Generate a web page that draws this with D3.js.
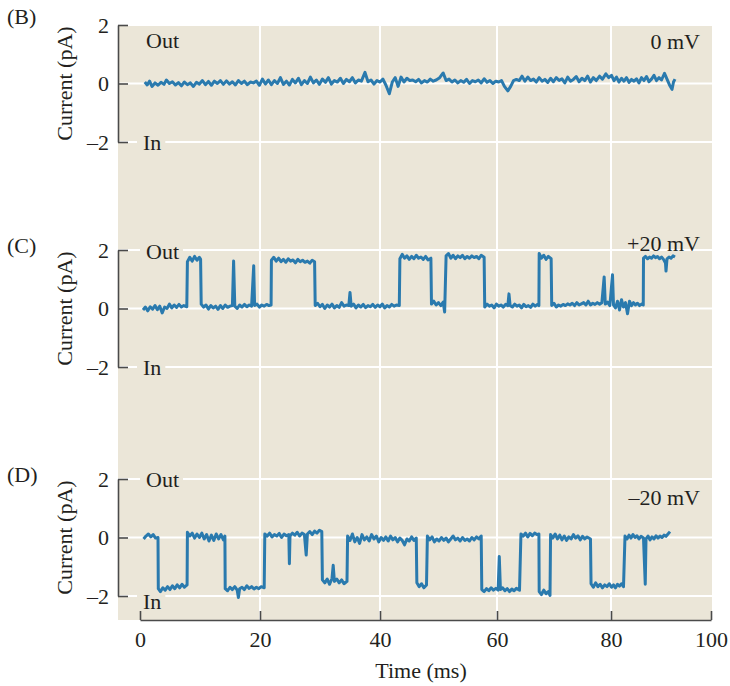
<!DOCTYPE html>
<meta charset="utf-8">
<script src="https://d3js.org/d3.v7.js"></script>
<style>
  body { margin: 0; background: #fff; }
  text { font-family: "Liberation Serif", serif; fill: #231f20; }
</style>
<div id="my_dataviz"></div>

<script>
// ---- data ----
var timeTicks = [0, 20, 40, 60, 80, 100];
var currentTicks = [-2, 0, 2];
var panelLetters = ["(B)", "(C)", "(D)"];
var voltages = ["0 mV", "+20 mV", "\u201320 mV"];

// 0 mV: noise around 0
var trace0mV = [[0.8,0.05],[1.2,-0.05],[1.6,0.08],[2.0,-0.1],[2.5,0.02],[3.0,-0.06],[3.5,0.04],[4.0,-0.03],[4.4,0.12],[4.9,0.0],[5.4,0.06],[5.9,-0.05],[6.4,0.03],[6.9,-0.08],[7.4,0.05],[7.9,-0.04],[8.4,0.02],[8.9,-0.1],[9.4,0.04],[9.9,-0.02],[10.4,0.1],[10.9,-0.04],[11.4,0.07],[11.9,-0.06],[12.4,0.08],[12.9,0.0],[13.4,0.1],[13.9,-0.03],[14.4,0.09],[14.9,-0.02],[15.4,0.06],[15.9,-0.05],[16.4,0.1],[16.9,0.0],[17.4,0.08],[17.9,-0.04],[18.4,0.05],[18.9,0.02],[19.4,0.08],[19.9,-0.06],[20.4,0.15],[20.9,-0.02],[21.4,0.12],[21.9,-0.04],[22.4,0.1],[22.9,0.0],[23.4,0.2],[23.9,-0.03],[24.4,0.08],[24.9,-0.05],[25.4,0.14],[25.9,0.02],[26.4,0.18],[26.9,-0.04],[27.4,0.1],[27.9,0.0],[28.4,0.22],[28.9,0.02],[29.4,0.12],[29.9,-0.03],[30.4,0.15],[30.9,0.04],[31.4,0.2],[31.9,-0.02],[32.4,0.1],[32.9,0.05],[33.4,0.18],[33.9,0.0],[34.4,0.14],[34.9,0.06],[35.4,0.2],[35.9,0.02],[36.4,0.12],[36.9,0.08],[37.5,0.38],[38.0,0.06],[38.5,0.12],[39.0,-0.02],[39.5,0.1],[40.0,0.05],[40.5,0.15],[41.0,-0.05],[41.6,-0.35],[42.1,0.05],[42.6,0.2],[43.1,-0.1],[43.6,0.22],[44.1,0.05],[44.6,0.18],[45.1,0.1],[45.6,0.12],[46.1,0.06],[46.6,0.14],[47.1,0.02],[47.6,0.1],[48.1,0.05],[48.6,0.15],[49.1,0.08],[49.6,0.12],[50.2,0.2],[50.8,0.36],[51.3,0.1],[51.8,0.15],[52.3,0.05],[52.8,0.12],[53.3,0.02],[53.8,0.1],[54.3,0.04],[54.8,0.14],[55.3,0.0],[55.8,0.1],[56.3,0.06],[56.8,0.12],[57.3,0.02],[57.8,0.16],[58.3,0.04],[58.8,0.1],[59.3,0.0],[59.8,0.08],[60.3,0.05],[60.8,0.1],[61.3,-0.1],[61.9,-0.25],[62.4,-0.1],[62.9,0.1],[63.4,0.14],[63.9,0.1],[64.4,0.25],[64.9,0.08],[65.4,0.22],[65.9,0.1],[66.4,0.15],[66.9,0.05],[67.4,0.2],[67.9,0.08],[68.4,0.14],[68.9,0.04],[69.4,0.18],[69.9,0.06],[70.4,0.2],[70.9,0.1],[71.4,0.16],[71.9,0.02],[72.4,0.22],[72.9,0.08],[73.4,0.14],[73.9,0.24],[74.4,0.06],[74.9,0.18],[75.4,0.1],[75.9,0.25],[76.4,0.05],[76.9,0.2],[77.4,0.1],[78.0,0.25],[78.5,0.15],[79.1,0.33],[79.6,0.2],[80.1,0.28],[80.6,0.1],[81.1,0.22],[81.6,0.05],[82.1,0.18],[82.6,0.08],[83.1,0.2],[83.6,0.04],[84.1,0.14],[84.6,0.08],[85.1,0.16],[85.6,0.02],[86.1,0.2],[86.6,0.1],[87.1,0.24],[87.6,0.06],[88.1,0.15],[88.6,0.28],[89.1,0.1],[89.6,0.2],[90.1,0.12],[90.7,0.35],[91.2,0.15],[91.7,-0.05],[92.2,-0.2],[92.5,0.05],[92.8,0.15]];

// +20 mV: closed ~0, open ~+1.7
var tracePlus20 = [[0.5,-0.05],[0.9,0.05],[1.3,-0.08],[1.7,0.06],[2.1,-0.02],[2.5,0.1],[2.9,-0.04],[3.3,0.08],[3.7,-0.15],[4.1,0.05],[4.5,0.0],[4.9,0.15],[5.3,0.02],[5.7,0.12],[6.1,0.04],[6.5,0.14],[6.9,0.05],[7.3,0.1],[7.8,0.06],
  [7.9,1.6],[8.3,1.75],[8.7,1.62],[9.1,1.78],[9.5,1.65],[9.9,1.75],[10.1,1.68],
  [10.2,0.15],[10.6,0.05],[11.0,0.12],[11.4,-0.02],[11.8,0.1],[12.2,0.02],[12.6,0.08],[13.0,-0.03],[13.4,0.1],[13.8,0.0],[14.2,0.12],[14.6,0.04],[15.0,0.08],[15.4,0.1],[15.6,1.62],[15.8,0.08],[16.2,0.0],[16.6,0.12],[17.0,0.05],[17.4,0.14],[17.8,0.06],[18.2,0.12],[18.6,0.08],[18.95,1.46],[19.1,0.1],[19.5,0.15],[19.9,0.05],[20.3,0.12],[20.7,0.08],[21.1,0.14],[21.5,0.1],[21.85,0.12],
  [21.9,1.65],[22.3,1.75],[22.7,1.62],[23.1,1.72],[23.5,1.6],[23.9,1.68],[24.3,1.58],[24.7,1.7],[25.1,1.62],[25.5,1.66],[25.9,1.56],[26.3,1.68],[26.7,1.6],[27.1,1.65],[27.5,1.58],[27.9,1.62],[28.3,1.55],[28.7,1.65],[29.1,1.6],
  [29.2,0.1],[29.6,0.18],[30.0,0.06],[30.4,0.14],[30.8,0.0],[31.2,0.12],[31.6,0.05],[32.0,0.15],[32.4,0.02],[32.8,0.1],[33.2,0.04],[33.6,0.2],[34.0,0.08],[34.4,0.12],[34.8,0.1],[35.0,0.55],[35.2,0.08],[35.6,0.15],[36.0,0.02],[36.4,0.12],[36.8,0.05],[37.2,0.14],[37.6,0.03],[38.0,0.1],[38.4,0.06],[38.8,0.14],[39.2,0.04],[39.6,0.12],[40.0,0.06],[40.4,0.15],[40.8,0.02],[41.2,0.1],[41.6,0.05],[42.0,0.14],[42.4,0.08],[42.8,0.12],[43.3,0.1],
  [43.4,1.7],[43.8,1.85],[44.2,1.72],[44.6,1.8],[45.0,1.68],[45.4,1.78],[45.8,1.7],[46.2,1.82],[46.6,1.72],[47.0,1.76],[47.4,1.68],[47.8,1.78],[48.2,1.66],[48.7,1.72],
  [48.8,0.15],[49.2,0.25],[49.6,0.12],[50.0,0.2],[50.4,0.1],[50.8,0.22],[51.05,-0.12],
  [51.3,1.8],[51.7,1.88],[52.1,1.72],[52.5,1.82],[52.9,1.7],[53.3,1.8],[53.7,1.74],[54.1,1.82],[54.5,1.7],[54.9,1.78],[55.3,1.72],[55.7,1.8],[56.1,1.74],[56.5,1.78],[56.9,1.7],[57.3,1.82],[57.8,1.75],
  [57.9,0.05],[58.3,0.15],[58.7,0.08],[59.1,0.12],[59.5,0.02],[59.9,0.15],[60.3,0.08],[60.7,0.12],[61.1,0.05],[61.5,0.14],[61.9,0.1],[62.1,0.5],[62.3,0.1],[62.7,0.05],[63.1,0.15],[63.5,0.08],[63.9,0.12],[64.3,0.02],[64.7,0.14],[65.1,0.06],[65.5,0.1],[65.9,0.04],[66.3,0.15],[66.7,0.08],[67.1,0.14],[67.35,0.1],
  [67.4,1.88],[67.8,1.72],[68.2,1.82],[68.6,1.68],[69.0,1.78],[69.5,1.7],
  [69.6,0.1],[70.0,0.18],[70.4,0.05],[70.8,0.12],[71.2,0.08],[71.6,0.14],[72.0,0.1],[72.4,0.16],[72.8,0.12],[73.2,0.18],[73.6,0.1],[74.0,0.2],[74.4,0.12],[74.8,0.16],[75.2,0.2],[75.6,0.12],[76.0,0.25],[76.4,0.12],[76.8,0.18],[77.2,0.14],[77.6,0.2],[78.0,0.15],[78.4,0.2],[78.8,1.08],[79.0,0.15],[79.4,0.22],[79.8,0.1],[80.3,1.15],[80.5,0.12],[80.9,0.02],[81.3,0.25],[81.7,-0.05],[82.1,0.3],[82.5,0.05],[82.9,0.2],[83.3,-0.18],[83.7,0.25],[84.1,0.1],[84.5,0.2],[84.9,0.12],[85.3,0.18],[85.7,0.1],[86.1,0.15],[86.45,0.12],
  [86.5,1.72],[86.9,1.78],[87.3,1.7],[87.7,1.76],[88.1,1.72],[88.5,1.8],[88.9,1.74],[89.3,1.78],[89.7,1.7],[90.1,1.76],[90.5,1.68],[90.9,1.55],[91.0,1.28],[91.2,1.7],[91.6,1.76],[92.0,1.72],[92.4,1.8],[92.8,1.76]];

// -20 mV: open ~0, closed ~-1.7
var traceMinus20 = [[0.6,-0.05],[1.0,0.05],[1.4,0.12],[1.8,0.02],[2.2,0.1],[2.6,-0.02],[3.0,0.0],
  [3.05,-1.75],[3.4,-1.85],[3.8,-1.72],[4.2,-1.8],[4.6,-1.68],[5.0,-1.78],[5.4,-1.65],[5.8,-1.75],[6.2,-1.62],[6.6,-1.72],[7.0,-1.6],[7.4,-1.7],[7.85,-1.62],
  [7.9,0.18],[8.3,0.05],[8.7,0.15],[9.1,-0.02],[9.5,0.12],[9.9,0.0],[10.3,0.15],[10.7,-0.05],[11.1,0.1],[11.5,-0.12],[11.9,0.08],[12.3,-0.1],[12.7,0.12],[13.1,-0.05],[13.5,0.1],[13.9,-0.08],[14.15,0.05],
  [14.2,-1.75],[14.6,-1.82],[15.0,-1.7],[15.4,-1.78],[15.8,-1.68],[16.2,-1.8],[16.4,-2.05],[16.6,-1.75],[17.0,-1.7],[17.4,-1.78],[17.8,-1.65],[18.2,-1.74],[18.6,-1.68],[19.0,-1.76],[19.4,-1.7],[19.8,-1.75],[20.2,-1.68],[20.7,-1.72],
  [20.8,0.12],[21.2,0.05],[21.6,0.15],[22.0,0.02],[22.4,0.1],[22.8,0.05],[23.2,0.14],[23.6,0.0],[24.0,0.12],[24.4,0.06],[24.8,0.1],[24.9,-0.9],[25.0,0.05],[25.4,0.15],[25.8,0.08],[26.2,0.18],[26.6,0.05],[27.0,0.15],[27.4,0.1],[27.7,-0.6],[27.9,0.12],[28.3,0.2],[28.7,0.1],[29.1,0.22],[29.5,0.15],[29.9,0.25],[30.3,0.2],
  [30.4,-1.45],[30.8,-1.55],[31.2,-1.42],[31.6,-1.6],[32.0,-1.4],[32.2,-0.95],[32.4,-1.5],[32.8,-1.42],[33.2,-1.55],[33.6,-1.45],[34.0,-1.58],[34.5,-1.5],
  [34.6,0.05],[35.0,-0.1],[35.4,0.12],[35.8,-0.15],[36.2,0.0],[36.6,-0.2],[37.0,0.1],[37.4,-0.08],[37.8,0.02],[38.2,-0.12],[38.6,0.1],[39.0,-0.05],[39.4,0.05],[39.8,-0.15],[40.2,0.0],[40.6,-0.1],[41.0,0.02],[41.4,-0.12],[41.8,0.05],[42.2,-0.08],[42.6,0.0],[43.0,-0.15],[43.4,-0.02],[43.8,-0.1],[44.2,-0.25],[44.6,-0.05],[45.0,-0.12],[45.4,0.02],[45.8,-0.1],[46.2,-0.02],
  [46.3,-1.55],[46.7,-1.68],[47.1,-1.58],[47.5,-1.72],[47.95,-1.62],
  [48.1,0.05],[48.5,-0.08],[48.9,0.02],[49.3,-0.15],[49.7,-0.05],[50.1,-0.12],[50.5,0.0],[50.9,-0.1],[51.3,-0.02],[51.7,-0.15],[52.1,-0.05],[52.5,0.05],[52.9,-0.08],[53.3,-0.02],[53.7,-0.12],[54.1,0.0],[54.5,-0.1],[54.9,-0.05],[55.3,-0.12],[55.7,0.0],[56.1,-0.08],[56.5,0.02],[56.9,-0.05],[57.3,0.05],
  [57.4,-1.78],[57.8,-1.85],[58.2,-1.75],[58.6,-1.82],[59.0,-1.72],[59.4,-1.8],[59.8,-1.74],[60.2,-1.8],[60.4,-0.65],[60.6,-1.78],[61.0,-1.72],[61.4,-1.82],[61.8,-1.75],[62.2,-1.85],[62.6,-1.76],[63.0,-1.82],[63.4,-1.74],[63.95,-1.8],
  [64.2,0.12],[64.6,0.05],[65.0,0.15],[65.4,0.02],[65.8,0.14],[66.2,0.06],[66.6,0.15],[67.0,0.1],[67.35,0.12],
  [67.4,-1.85],[67.8,-1.95],[68.2,-1.8],[68.6,-1.92],[69.0,-1.85],[69.3,-1.98],
  [69.4,0.1],[69.8,-0.02],[70.2,0.12],[70.6,-0.05],[71.0,0.08],[71.4,-0.08],[71.8,0.05],[72.2,-0.1],[72.6,0.02],[73.0,-0.05],[73.4,0.1],[73.8,-0.02],[74.2,0.06],[74.6,-0.08],[75.0,0.04],[75.4,-0.05],[75.8,0.02],[76.4,-0.05],
  [76.5,-1.58],[76.9,-1.7],[77.3,-1.55],[77.7,-1.68],[78.1,-1.6],[78.5,-1.72],[78.9,-1.62],[79.3,-1.68],[79.7,-1.58],[80.1,-1.7],[80.5,-1.62],[80.9,-1.72],[81.3,-1.6],[81.7,-1.66],[82.1,-1.58],[82.5,-1.68],
  [82.8,0.05],[83.2,-0.05],[83.6,0.08],[84.0,-0.02],[84.4,0.1],[84.8,0.0],[85.2,0.06],[85.6,-0.05],[86.0,0.04],[86.5,-0.02],[86.85,-1.6],[87.0,-0.05],[87.4,0.05],[87.8,-0.08],[88.2,0.02],[88.6,-0.05],[89.0,0.06],[89.4,-0.02],[89.8,0.05],[90.2,0.0],[90.6,0.08],[91.0,0.04],[91.4,0.12],[91.8,0.2]];

var traces = [trace0mV, tracePlus20, traceMinus20];

// ---- layout ----
var width = 730, height = 686;
var plotLeft = 118, plotRight = 712, plotTop = 25, plotBottom = 620;
var panelTops = [25, 250, 479], panelHeight = 117;
// the printed time axis is slightly uneven, so map each tick to where it sits
var timeStops = [140, 260, 380, 497, 611, 711];
var bg = "#ebe6d8", ink = "#4a4a4a", traceColor = "#2a7aae";
var fontSize = 22;

var svg = d3.select("#my_dataviz")
    .append("svg")
    .attr("width", width)
    .attr("height", height);

var x = d3.scaleLinear().domain(timeTicks).range(timeStops);

// background
svg.append("rect")
    .attr("x", plotLeft).attr("y", plotTop)
    .attr("width", plotRight - plotLeft)
    .attr("height", plotBottom - plotTop)
    .attr("fill", bg);

// vertical grid
svg.selectAll(".vgrid")
    .data(timeTicks.filter(d => d > 0 && d < 100))
    .enter().append("line")
    .attr("x1", d => x(d)).attr("x2", d => x(d))
    .attr("y1", plotTop).attr("y2", plotBottom)
    .attr("stroke", "#fff").attr("stroke-width", 2);

var line = d3.line();

panelTops.forEach(function (top, i) {
    var y = d3.scaleLinear().domain([-2, 2]).range([top + panelHeight, top]);

    // horizontal grid
    svg.selectAll(".hgrid" + i)
        .data(currentTicks)
        .enter().append("line")
        .attr("x1", plotLeft).attr("x2", plotRight)
        .attr("y1", d => y(d)).attr("y2", d => y(d))
        .attr("stroke", "#fff").attr("stroke-width", 2);

    // Out / In labels with a patch of background behind them
    var labels = [
        {t: "Out", x: 146, y: i === 0 ? top + 23 : (i === 1 ? top + 9 : top + 8)},
        {t: "In", x: 143, y: i === 2 ? top + 130 : top + 125}
    ];
    labels.forEach(function (l) {
        var g = svg.append("g");
        var txt = g.append("text")
            .attr("x", l.x).attr("y", l.y)
            .style("font-size", fontSize + "px")
            .text(l.t);
        var bb = txt.node().getBBox();
        g.insert("rect", "text")
            .attr("x", bb.x - 6).attr("y", bb.y + 2)
            .attr("width", bb.width + 10).attr("height", bb.height - 4)
            .attr("fill", bg);
    });

    // trace
    svg.append("path")
        .datum(traces[i])
        .attr("fill", "none")
        .attr("stroke", traceColor)
        .attr("stroke-width", 3)
        .attr("stroke-linejoin", "round")
        .attr("d", line.x(d => x(d[0])).y(d => y(d[1])));

    // y axis
    var yAxis = svg.append("g")
        .attr("transform", "translate(" + plotLeft + ",0)")
        .call(d3.axisLeft(y)
            .tickValues(currentTicks)
            .tickSize(-10)
            .tickSizeOuter(0)
            .tickPadding(9)
            .tickFormat(d => d < 0 ? "\u2013" + Math.abs(d) : d));
    yAxis.select(".domain").attr("stroke", ink).attr("stroke-width", 1.6);
    yAxis.selectAll(".tick line").attr("stroke", ink).attr("stroke-width", 1.6);
    yAxis.selectAll("text")
        .style("font-family", "Liberation Serif, serif")
        .style("font-size", fontSize + "px")
        .attr("fill", "#231f20");

    // axis title
    svg.append("text")
        .attr("transform", "translate(72," + y(0) + ") rotate(-90)")
        .attr("text-anchor", "middle")
        .style("font-size", fontSize + "px")
        .text("Current (pA)");

    // panel letter
    svg.append("text")
        .attr("x", 7).attr("y", top + (i === 0 ? -1 : 3))
        .style("font-size", fontSize + "px")
        .text(panelLetters[i]);

    // voltage
    svg.append("text")
        .attr("x", 700)
        .attr("y", [top + 24, top + 1, top + 26][i])
        .attr("text-anchor", "end")
        .style("font-size", fontSize + "px")
        .text(voltages[i]);
});

// x axis
var xAxis = svg.append("g")
    .attr("transform", "translate(0," + plotBottom + ")")
    .call(d3.axisBottom(x)
        .tickValues(timeTicks)
        .tickSize(-9)
        .tickSizeOuter(0)
        .tickPadding(11));
xAxis.select(".domain").attr("stroke", ink).attr("stroke-width", 1.6);
xAxis.selectAll(".tick line").attr("stroke", ink).attr("stroke-width", 1.6);
xAxis.selectAll("text")
    .style("font-family", "Liberation Serif, serif")
    .style("font-size", fontSize + "px")
    .attr("fill", "#231f20");

svg.append("text")
    .attr("x", 421).attr("y", 678)
    .attr("text-anchor", "middle")
    .style("font-size", fontSize + "px")
    .text("Time (ms)");
</script>
